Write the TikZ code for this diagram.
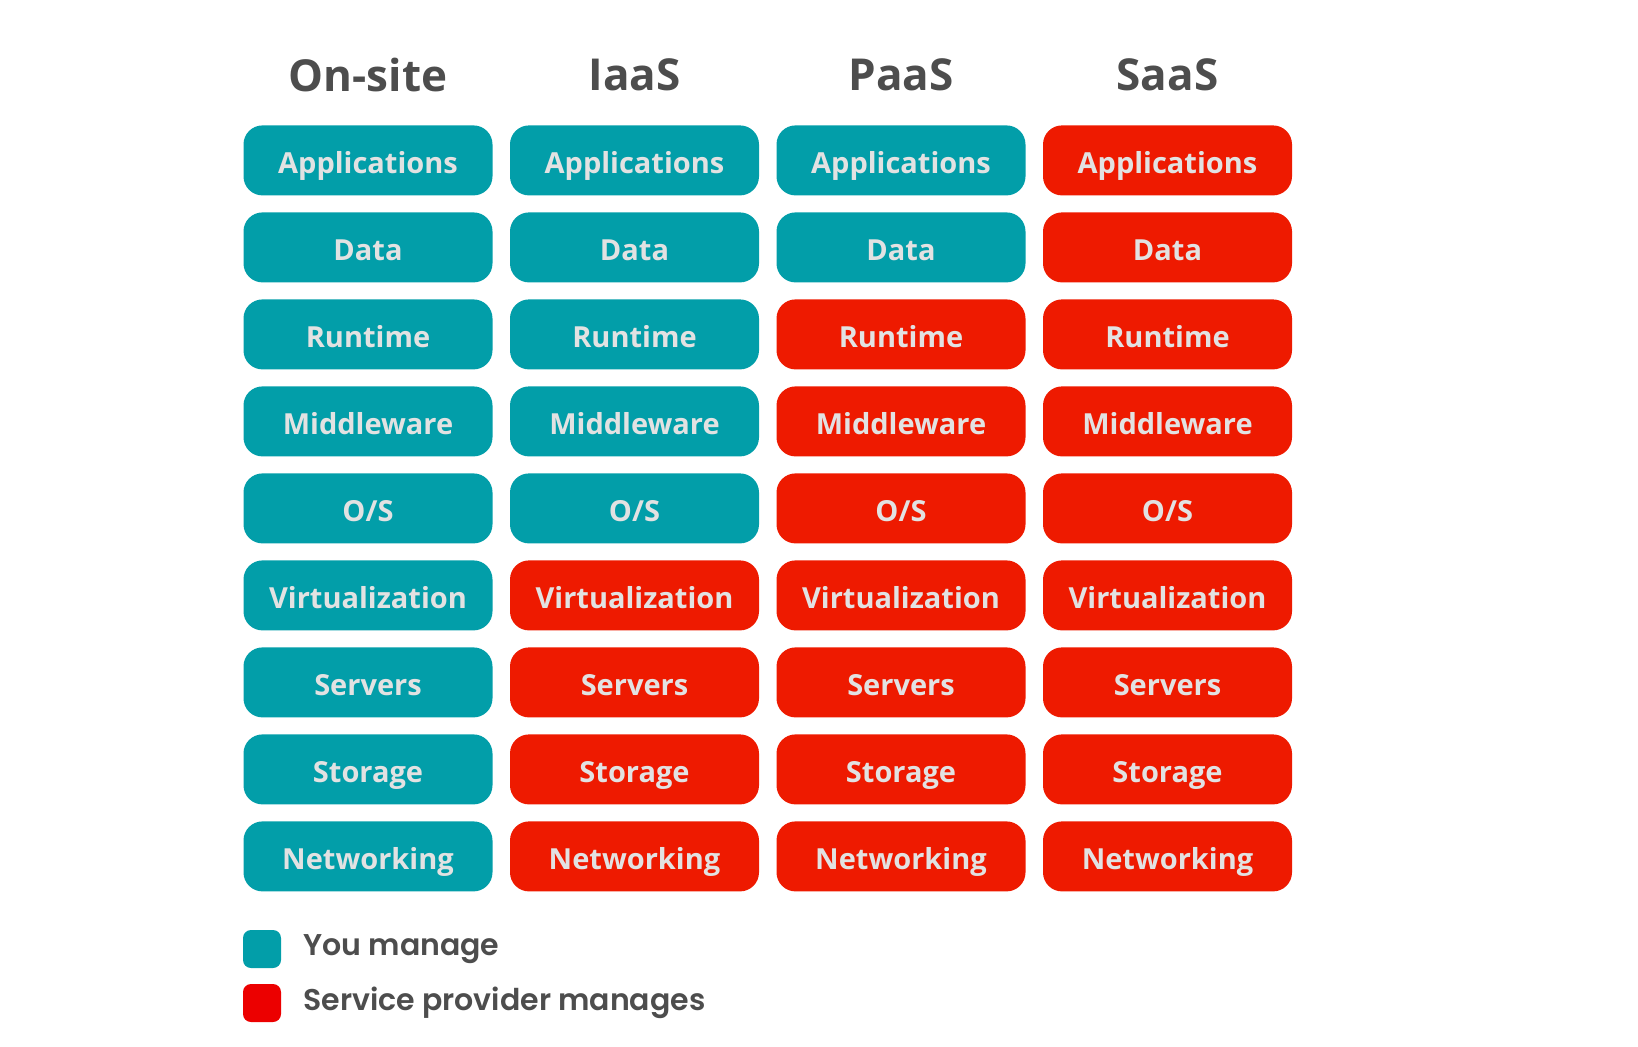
\documentclass[tikz,border=0pt]{standalone}
\usepackage{fontspec}
\setmainfont{Open Sans}
\newfontfamily\legfont{Poppins}[BoldFont={Poppins SemiBold}]
\definecolor{tealc}{RGB}{2,158,169}
\definecolor{redc}{RGB}{238,26,0}
\definecolor{redleg}{RGB}{236,0,0}
\definecolor{boxtext}{RGB}{226,226,226}
\definecolor{headc}{RGB}{77,77,77}
\tikzset{
  layer/.style={rounded corners=19*0.5pt, minimum width=249*0.5pt, minimum height=70*0.5pt,
    inner sep=0pt, text height=12.6pt, text depth=0pt, text=boxtext,
    font=\fontsize{14.5}{16}\selectfont\bfseries},
  mine/.style={layer, fill=tealc},
  theirs/.style={layer, fill=redc},
  head/.style={text=headc, font=\fontsize{22}{26}\selectfont\bfseries},
  legbox/.style={rounded corners=4pt, minimum size=38*0.5pt, inner sep=0pt},
  legtext/.style={text=headc, anchor=west, inner sep=0pt, font=\legfont\fontsize{15}{18}\selectfont\bfseries}
}
\begin{document}
\begin{tikzpicture}[x=0.5pt,y=-0.5pt]
\useasboundingbox (0,0) rectangle (1638,1046);
\def\names{{"Applications","Data","Runtime","Middleware","O/S","Virtualization","Servers","Storage","Networking"}}
\foreach \h [count=\c from 0] in {On-site,IaaS,PaaS,SaaS}
  \node[head] (h\c) at (368+266.5*\c, 75) {\h};
\foreach \c/\n in {0/9,1/5,2/2,3/0}{
  \foreach \r in {0,...,8}{
    \pgfmathsetmacro{\lab}{\names[\r]}
    \ifnum\r<\n
      \node[mine] (b\c-\r) at (368+266.5*\c, 160.4+87*\r) {\lab};
    \else
      \node[theirs] (b\c-\r) at (368+266.5*\c, 160.4+87*\r) {\lab};
    \fi
  }
}
\node[legbox, fill=tealc] (lk1) at (262,949) {};
\node[legbox, fill=redleg] (lk2) at (262,1003) {};
\node[legtext] (lt1) at (303,949) {You manage};
\node[legtext] (lt2) at (303,1003) {Service provider manages};
\end{tikzpicture}
\end{document}
